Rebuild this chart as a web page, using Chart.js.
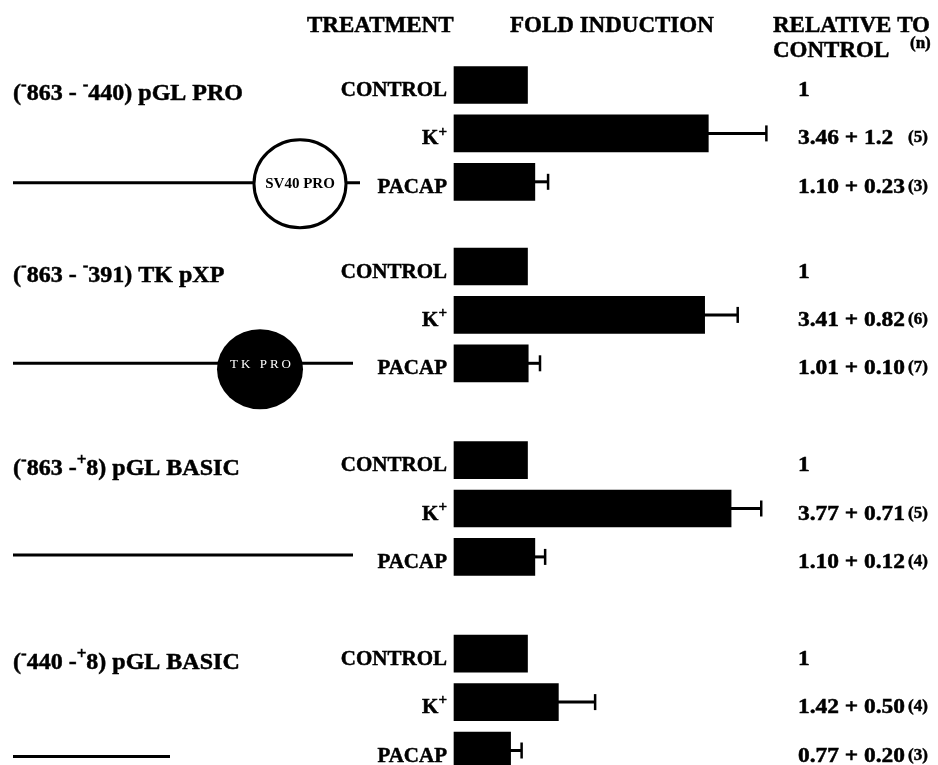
<!DOCTYPE html>
<html>
<head>
<meta charset="utf-8">
<script src="https://cdn.jsdelivr.net/npm/chart.js@4.4.0/dist/chart.umd.min.js"></script>
<style>
body { margin: 0; background: #fff; }
canvas { display: block; }
</style>
</head>
<body>
<canvas id="myChart" width="938" height="765"></canvas>
<script>
// '^' marks the next character as superscript
var constructs = ['(^-863 - ^-440) pGL PRO', '(^-863 - ^-391) TK pXP', '(^-863 -^+8) pGL BASIC', '(^-440 -^+8) pGL BASIC'];
var promoters = ['SV40 PRO', 'TK PRO', '', ''];
var treatments = ['CONTROL', 'K^+', 'PACAP'];

var controlFold = [1, 1, 1, 1];
var kFold = [3.46, 3.41, 3.77, 1.42];
var pacapFold = [1.10, 1.01, 1.10, 0.77];
// whiskers as they are drawn in the figure
var kErr = [0.79, 0.45, 0.41, 0.50];
var pacapErr = [0.18, 0.16, 0.14, 0.15];

var controlText = ['1', '1', '1', '1'];
var kText = ['3.46 + 1.2', '3.41 + 0.82', '3.77 + 0.71', '1.42 + 0.50'];
var kN = ['(5)', '(6)', '(5)', '(4)'];
var pacapText = ['1.10 + 0.23', '1.01 + 0.10', '1.10 + 0.12', '0.77 + 0.20'];
var pacapN = ['(3)', '(7)', '(4)', '(3)'];

// layout only: the y axis is split in thin slots, bars sit 4 slots apart
var groupStart = [0, 15, 31, 47];
var slotCount = 56;
var lineEnd = [360, 353, 353, 170];
var lineDy = [1, 0, -2, 6];
var FONT = '"Liberation Serif", "DejaVu Serif", serif';

var rowLabels = [], foldRows = [], errRows = [], valRows = [], nRows = [];
for (var s = 0; s < slotCount; s++) {
	rowLabels.push('');
	foldRows.push(null);
	errRows.push(null);
	valRows.push('');
	nRows.push('');
}
for (var g = 0; g < 4; g++) {
	var fold = [controlFold[g], kFold[g], pacapFold[g]];
	var err = [null, kErr[g], pacapErr[g]];
	var val = [controlText[g], kText[g], pacapText[g]];
	var n = ['', kN[g], pacapN[g]];
	for (var t = 0; t < 3; t++) {
		var r = groupStart[g] + t * 4;
		rowLabels[r] = treatments[t];
		foldRows[r] = fold[t];
		errRows[r] = err[t];
		valRows[r] = val[t];
		nRows[r] = n[t];
	}
}

function parts(str) {
	var out = [], i = 0;
	while (i < str.length) {
		if (str[i] == '^') {
			out.push({ t: str[i + 1], sup: true });
			i += 2;
		} else {
			var j = i;
			while (j < str.length && str[j] != '^') j++;
			out.push({ t: str.substring(i, j), sup: false });
			i = j;
		}
	}
	return out;
}

function drawRich(ctx, str, x, y, size, align, sx) {
	sx = sx || 1;
	var p = parts(str);
	var supSize = Math.round(size * 0.7);
	var w = 0;
	p.forEach(function(s) {
		ctx.font = 'bold ' + (s.sup ? supSize : size) + 'px ' + FONT;
		s.w = ctx.measureText(s.t).width;
		w += s.w;
	});
	ctx.save();
	ctx.translate(x, y);
	ctx.scale(sx, 1);
	var cx = align == 'right' ? -w : 0;
	ctx.textAlign = 'left';
	ctx.textBaseline = 'alphabetic';
	ctx.lineWidth = 0.5;
	p.forEach(function(s) {
		ctx.font = 'bold ' + (s.sup ? supSize : size) + 'px ' + FONT;
		var yy = s.sup ? -size * 0.42 : 0;
		ctx.fillText(s.t, cx, yy);
		ctx.strokeText(s.t, cx, yy);
		cx += s.w;
	});
	ctx.restore();
}

var figurePlugin = {
	id: 'figure',
	afterDraw: function(chart) {
		var ctx = chart.ctx;
		var xs = chart.scales.x, ys = chart.scales.y;
		var x0 = xs.getPixelForValue(0);
		ctx.save();
		ctx.fillStyle = '#000';
		ctx.strokeStyle = '#000';

		// error whiskers
		for (var i = 0; i < slotCount; i++) {
			if (errRows[i] == null) continue;
			var y = ys.getPixelForValue(i);
			var a = xs.getPixelForValue(foldRows[i]);
			var b = xs.getPixelForValue(foldRows[i] + errRows[i]);
			ctx.lineWidth = 3;
			ctx.beginPath();
			ctx.moveTo(a - 1, y);
			ctx.lineTo(b, y);
			ctx.stroke();
			ctx.lineWidth = 2.5;
			ctx.beginPath();
			ctx.moveTo(b, y - 8);
			ctx.lineTo(b, y + 8);
			ctx.stroke();
		}

		// treatment labels + values
		for (var i = 0; i < slotCount; i++) {
			if (!rowLabels[i]) continue;
			var y = ys.getPixelForValue(i);
			drawRich(ctx, rowLabels[i], x0 - 7, y + 11, 21, 'right');
			drawRich(ctx, valRows[i], 798, y + 11, 20, 'left', 1.17);
			if (nRows[i]) drawRich(ctx, nRows[i], 908, y + 9, 17, 'left');
		}

		// constructs and diagrams
		for (var g = 0; g < 4; g++) {
			var yc = ys.getPixelForValue(groupStart[g]);
			drawRich(ctx, constructs[g], 13, yc + 15, 24, 'left');
			var yl = ys.getPixelForValue(groupStart[g] + 8) + lineDy[g];
			ctx.lineWidth = 3;
			ctx.beginPath();
			ctx.moveTo(13, yl);
			ctx.lineTo(lineEnd[g], yl);
			ctx.stroke();
			if (g == 0) {
				ctx.beginPath();
				ctx.ellipse(300, yl + 1, 46, 44, 0, 0, Math.PI * 2);
				ctx.fillStyle = '#fff';
				ctx.fill();
				ctx.lineWidth = 3;
				ctx.stroke();
				ctx.fillStyle = '#000';
				ctx.font = 'bold 15px ' + FONT;
				ctx.textAlign = 'center';
				ctx.fillText(promoters[0], 300, yl + 5);
			} else if (g == 1) {
				ctx.beginPath();
				ctx.ellipse(260, yl + 6, 43, 40, 0, 0, Math.PI * 2);
				ctx.fillStyle = '#000';
				ctx.fill();
				ctx.fillStyle = '#fff';
				ctx.font = '13px ' + FONT;
				ctx.letterSpacing = '3px';
				ctx.textAlign = 'center';
				ctx.fillText(promoters[1], 262, yl + 5);
				ctx.letterSpacing = '0px';
				ctx.fillStyle = '#000';
			}
		}

		// column headers
		drawRich(ctx, 'TREATMENT', 307, 32, 23, 'left');
		drawRich(ctx, 'FOLD INDUCTION', 510, 32, 23, 'left');
		drawRich(ctx, 'RELATIVE TO', 773, 32, 23, 'left');
		drawRich(ctx, 'CONTROL', 773, 57, 23, 'left');
		drawRich(ctx, '(n)', 910, 48, 17, 'left');
		ctx.restore();
	}
};

var ctx = document.getElementById('myChart').getContext('2d');
var chart = new Chart(ctx, {
	type: 'bar',
	data: {
		labels: rowLabels,
		datasets: [{
			data: foldRows,
			backgroundColor: '#000',
			borderWidth: 0,
			barThickness: 37,
			clip: false
		}]
	},
	options: {
		indexAxis: 'y',
		responsive: false,
		animation: false,
		layout: {
			padding: { left: 454, right: 43, top: 85, bottom: 14.5 }
		},
		plugins: {
			legend: { display: false },
			tooltip: { enabled: false }
		},
		scales: {
			x: { type: 'linear', min: 0, max: 6, display: false },
			y: { display: false, offset: false }
		}
	},
	plugins: [figurePlugin]
});
</script>
</body>
</html>
